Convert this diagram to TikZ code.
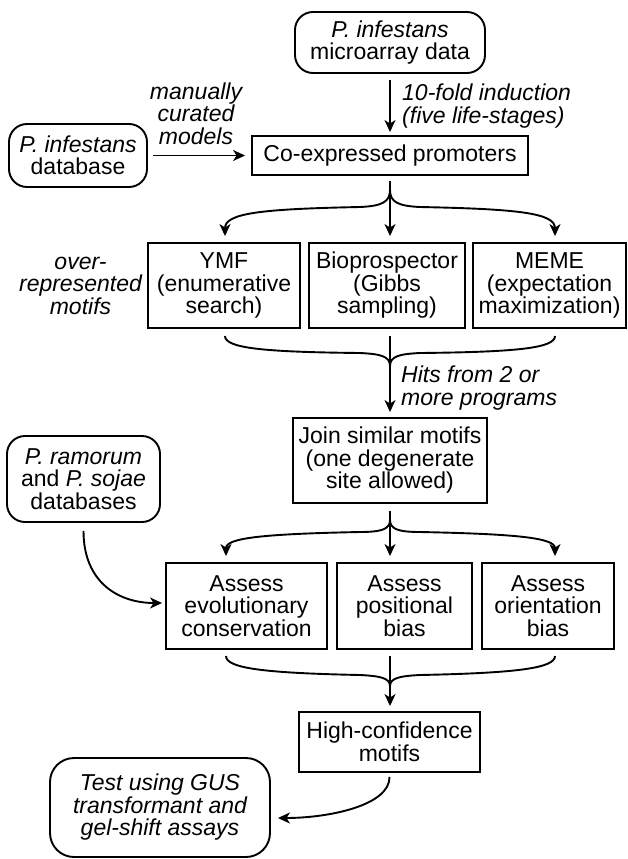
\documentclass[tikz,border=0pt]{standalone}
\usepackage{fontspec}
\setmainfont{Liberation Sans}
\usetikzlibrary{arrows.meta,positioning}

\begin{document}
\begin{tikzpicture}[
  x=1pt, y=-1pt,
  font=\fontsize{23}{22.5}\selectfont,
  box/.style={draw, line width=1.9pt, align=center, inner sep=0pt},
  rbox/.style={box, rounded corners=18pt},
  note/.style={align=center, inner sep=0pt, font=\fontsize{23}{22.5}\selectfont\itshape},
  arr/.style={-{Stealth[length=12pt,width=11pt,inset=3.5pt]}, line width=1.9pt},
  link/.style={line width=1.9pt}
]
\useasboundingbox (0,0) rectangle (627,859);

% sources and first step
\node[rbox, minimum width=190pt, minimum height=61pt] (micro) at (390,42.5) {\textit{P. infestans}\\microarray data};
\node[rbox, minimum width=138pt, minimum height=63pt] (db) at (78,155.5) {\textit{P. infestans}\\database};
\node[box, minimum width=276pt, minimum height=39pt] (coexp) at (390,155.5) {Co-expressed promoters};

% motif finders
\node[box, minimum width=152pt, minimum height=85pt] (ymf) at (224,285.5) {YMF\\(enumerative\\search)};
\node[box, minimum width=156pt, minimum height=85pt] (bio) at (387,285.5) {Bioprospector\\(Gibbs\\sampling)};
\node[box, minimum width=153pt, minimum height=85pt] (meme) at (549.5,285.5) {MEME\\(expectation\\maximization)};
\node[box, minimum width=194pt, minimum height=85pt] (join) at (390,460.5) {Join similar motifs\\(one degenerate\\site allowed)};
\node[rbox, minimum width=153pt, minimum height=86pt] (ram) at (83.5,479) {\textit{P. ramorum}\\and \textit{P. sojae}\\databases};

% assessments
\node[box, minimum width=161pt, minimum height=86pt] (evol) at (246.5,606) {Assess\\evolutionary\\conservation};
\node[box, minimum width=135pt, minimum height=86pt] (pos) at (404.5,606) {Assess\\positional\\bias};
\node[box, minimum width=132pt, minimum height=86pt] (ori) at (548,606) {Assess\\orientation\\bias};
\node[box, minimum width=181pt, minimum height=60pt] (high) at (389.5,742) {High-confidence\\motifs};
\node[rbox, rounded corners=24pt, minimum width=220pt, minimum height=99pt, font=\fontsize{23}{22.5}\selectfont\itshape] (test) at (160,807.5) {Test using GUS\\transformant and\\gel-shift assays};

% labels
\node[note] (manual) at (196,113.5) {manually\\curated\\models};
\node[note, anchor=west, align=left] (fold) at (402,106) {10-fold induction\\(five life-stages)};
\node[note, left=5pt of ymf] (over) {over-\\represented\\motifs};
\node[note, anchor=west, align=left] (hits) at (401,388) {Hits from 2 or\\more programs};

\coordinate (split1) at (390,190);
\coordinate (merge1) at (390,366);
\coordinate (split2) at (390,520);
\coordinate (merge2) at (390,686);

\draw[arr, shorten <=6pt, shorten >=3pt] (micro.south) -- (coexp.north);
\draw[arr, shorten <=5pt, shorten >=6pt] (db.east) -- (coexp.west);

% fan out to the three programs
\draw[arr] ([yshift=-5pt]coexp.south) -- ([xshift=3pt,yshift=6pt]bio.north);
\draw[arr] (split1) .. controls (390,202) and (382,206) .. (360,207) .. controls (262,209) and (225,213) .. ([xshift=1pt,yshift=6pt]ymf.north);
\draw[arr] (split1) .. controls (390,202) and (398,206) .. (420,207) .. controls (518,209) and (555,213) .. ([xshift=5.5pt,yshift=6pt]meme.north);

% hits merge
\draw[link] ([xshift=1pt,yshift=-7pt]ymf.south) .. controls (225,348) and (262,352) .. (360,353) .. controls (380,354) and (390,356) .. (merge1);
\draw[link] ([xshift=5.5pt,yshift=-7pt]meme.south) .. controls (555,348) and (518,352) .. (420,353) .. controls (400,354) and (390,356) .. (merge1);
\draw[arr] ([xshift=3pt,yshift=-7pt]bio.south) -- ([yshift=5pt]join.north);

% fan out to the assessments
\draw[arr] ([yshift=-7pt]join.south) -- ([xshift=-14.5pt,yshift=6pt]pos.north);
\draw[arr] (split2) .. controls (390,529) and (382,532) .. (360,532) .. controls (262,534) and (226,538) .. ([xshift=-20.5pt,yshift=6pt]evol.north);
\draw[arr] (split2) .. controls (390,529) and (398,532) .. (420,532) .. controls (518,534) and (555,538) .. ([xshift=7pt,yshift=6pt]ori.north);
\draw[arr] ([yshift=-8pt]ram.south) .. controls (83.5,582) and (118,603) .. ([xshift=-3pt,yshift=3pt]evol.west);

% assessments merge
\draw[link] ([xshift=-20.5pt,yshift=-6pt]evol.south) .. controls (226,668) and (262,673) .. (360,675) .. controls (380,676) and (390,678) .. (merge2);
\draw[link] ([xshift=7pt,yshift=-6pt]ori.south) .. controls (555,668) and (518,673) .. (420,675) .. controls (400,676) and (390,678) .. (merge2);
\draw[arr] ([xshift=-14.5pt,yshift=-6pt]pos.south) -- ([xshift=0.5pt,yshift=5pt]high.north);

\draw[arr] ([yshift=-4pt]high.south) .. controls (390,805) and (330,818) .. ([xshift=7pt,yshift=-10.5pt]test.east);
\end{tikzpicture}
\end{document}
